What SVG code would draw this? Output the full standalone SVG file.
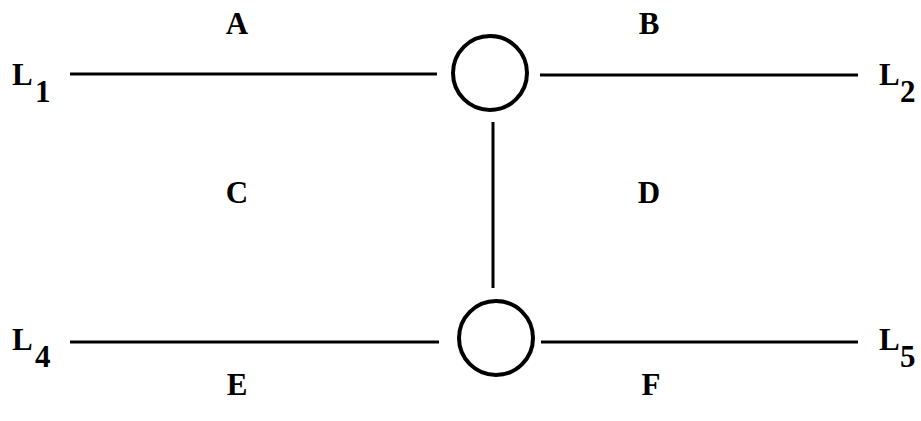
<svg xmlns="http://www.w3.org/2000/svg" width="921" height="421" viewBox="0 0 921 421">
<style>
.t{font-family:"Liberation Serif","Times New Roman",serif;font-weight:bold;font-size:31px;fill:#000}
.ln{stroke:#000;stroke-width:3;fill:none}
.c{stroke:#000;stroke-width:4;fill:#fff}
</style>
<rect width="921" height="421" fill="#fff"/>
<g id="connectors">
<line class="ln" x1="70" y1="74" x2="437" y2="74"/>
<line class="ln" x1="540" y1="75" x2="858" y2="75"/>
<line class="ln" x1="70" y1="342" x2="439" y2="342"/>
<line class="ln" x1="541" y1="342" x2="858" y2="342"/>
<line class="ln" x1="493" y1="122" x2="493" y2="288" stroke-width="2"/>
</g>
<g id="node-top"><circle class="c" cx="490" cy="73" r="37"/></g>
<g id="node-bottom"><circle class="c" cx="496" cy="338" r="37"/></g>
<g id="labels">
<text class="t" x="12" y="85">L<tspan x="35" dy="17">1</tspan></text>
<text class="t" x="879" y="85">L<tspan x="900" dy="17">2</tspan></text>
<text class="t" x="12" y="350">L<tspan x="35" dy="17">4</tspan></text>
<text class="t" x="879" y="350">L<tspan x="900" dy="17">5</tspan></text>
<text class="t" x="237" y="34" text-anchor="middle">A</text>
<text class="t" x="649" y="34" text-anchor="middle">B</text>
<text class="t" x="237" y="203" text-anchor="middle">C</text>
<text class="t" x="649" y="203" text-anchor="middle">D</text>
<text class="t" x="237" y="395" text-anchor="middle">E</text>
<text class="t" x="651" y="395" text-anchor="middle">F</text>
</g>
</svg>
